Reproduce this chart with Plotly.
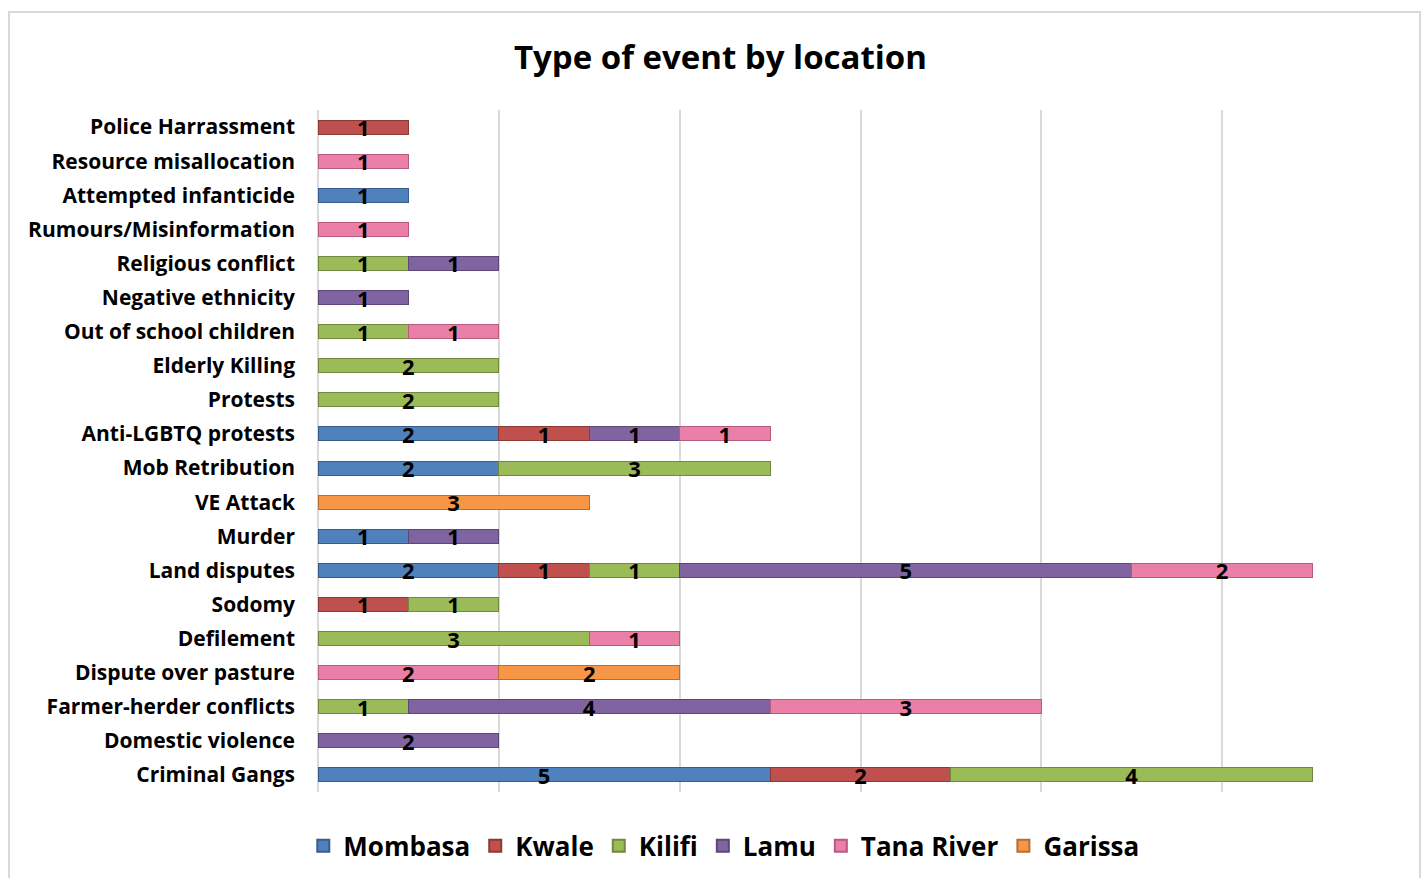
import plotly.graph_objects as go

categories = ["Criminal Gangs", "Domestic violence", "Farmer-herder conflicts", "Dispute over pasture",
              "Defilement", "Sodomy", "Land disputes", "Murder", "VE Attack", "Mob Retribution",
              "Anti-LGBTQ protests", "Protests", "Elderly Killing", "Out of school children",
              "Negative ethnicity", "Religious conflict", "Rumours/Misinformation",
              "Attempted infanticide", "Resource misallocation", "Police Harrassment"]

mombasa   = [5, None, None, None, None, None, 2, 1, None, 2, 2, None, None, None, None, None, None, 1, None, None]
kwale     = [2, None, None, None, None, 1, 1, None, None, None, 1, None, None, None, None, None, None, None, None, 1]
kilifi    = [4, None, 1, None, 3, 1, 1, None, None, 3, None, 2, 2, 1, None, 1, None, None, None, None]
lamu      = [None, 2, 4, None, None, None, 5, 1, None, None, 1, None, None, None, 1, 1, None, None, None, None]
tana      = [None, None, 3, 2, 1, None, 2, None, None, None, 1, None, None, 1, None, None, 1, None, 1, None]
garissa   = [None, None, None, 2, None, None, None, None, 3, None, None, None, None, None, None, None, None, None, None, None]

series = [("Mombasa", mombasa, "#4F81BD", "#385D8A"),
          ("Kwale", kwale, "#C0504D", "#8C3836"),
          ("Kilifi", kilifi, "#9BBB59", "#71893F"),
          ("Lamu", lamu, "#8064A2", "#5C4776"),
          ("Tana River", tana, "#EA7FA8", "#B85A80"),
          ("Garissa", garissa, "#F79646", "#B66D31")]

FONT = "Open Sans"
fig = go.Figure()
for name, vals, col, edge in series:
    fig.add_trace(go.Bar(
        y=categories, x=vals, name=name, orientation="h",
        marker=dict(color=col, line=dict(color=edge, width=1)),
        text=vals, texttemplate="%{x}", textposition="inside", textangle=0,
        insidetextanchor="middle", constraintext="none",
        textfont=dict(family=FONT, size=22, color="black", weight="bold"),
        cliponaxis=False,
    ))

fig.update_layout(
    barmode="stack", bargap=0.59,
    width=1421, height=878,
    margin=dict(l=318, r=18, t=110, b=86, autoexpand=False),
    paper_bgcolor="white", plot_bgcolor="white",
    font=dict(family=FONT, color="black"),
    title=dict(text="Type of event by location", x=0.507, xanchor="center", xref="container",
               y=0.935, yanchor="middle", yref="container",
               font=dict(family=FONT, size=33, color="black", weight="bold")),
    legend=dict(orientation="h", x=0.374, xanchor="center", y=-0.079, yanchor="middle",
                font=dict(family=FONT, size=26, color="black", weight="bold"),
                itemsizing="constant", traceorder="normal", itemwidth=30),
    xaxis=dict(range=[0, 12], dtick=2, showticklabels=False, showgrid=True,
               gridcolor="#D9D9D9", gridwidth=2, zeroline=True, zerolinecolor="#D9D9D9",
               zerolinewidth=2, showline=False),
    yaxis=dict(categoryorder="array", categoryarray=categories, showgrid=False,
               tickfont=dict(family=FONT, size=21, color="black", weight="bold"),
               ticks="", ticklabelstandoff=22, showline=False),
    shapes=[dict(type="rect", xref="paper", yref="paper",
                 x0=(9 - 318) / 1085, x1=(1420 - 318) / 1085,
                 y0=(792 - 890) / 682, y1=(792 - 12) / 682,
                 line=dict(color="#D9D9D9", width=2), fillcolor="rgba(0,0,0,0)", layer="below")],
)

fig.write_html("out.html")
